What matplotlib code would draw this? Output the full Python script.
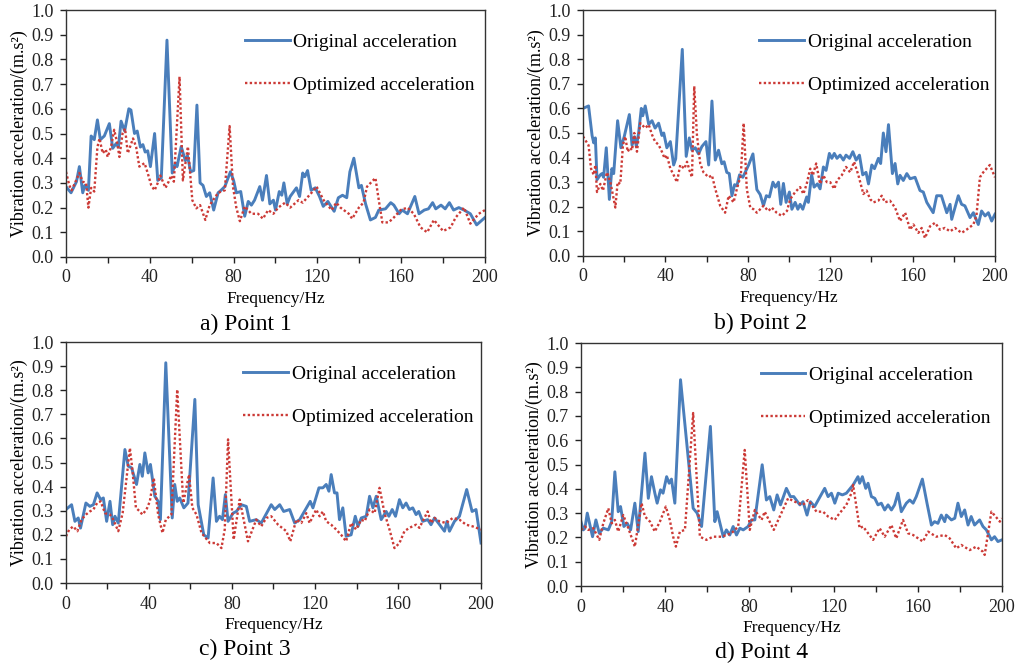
import matplotlib
matplotlib.use("Agg")
from matplotlib import pyplot as plt
from matplotlib.ticker import MultipleLocator, FuncFormatter

plt.rcParams["font.family"] = ["Liberation Serif", "DejaVu Serif"]

# Point 1
p1_orig_f = [0, 2.4, 5, 6.4, 8, 9, 10.7, 12, 13.5, 15, 16.4, 18.3, 20.7, 22.3, 24, 25, 26.3, 28, 30, 31,
             32.7, 34, 35.5, 36.7, 37.8, 39, 40.3, 42.3, 43.8, 45.5, 48.2, 50.7, 52.3, 53, 55, 57, 58, 59.5,
             61, 62.5, 64, 65.4, 67, 68.6, 70.5, 72.6, 74, 75.8, 78.5, 80, 81.3, 83.4, 85.3, 87, 88.5, 90,
             92.5, 93.8, 95.7, 97.3, 99, 100, 101.8, 103, 104, 105.6, 107, 110, 111.5, 113, 114, 115.3, 117,
             119, 121, 122.8, 125, 128, 130, 132, 134, 135.5, 137.4, 139.8, 141, 143, 145.3, 147.7, 149.3,
             152.5, 155, 156.5, 159, 160.5, 163, 166.5, 168.5, 171, 173, 175, 176.5, 179, 181, 183, 185,
             187.5, 190, 193, 196, 200]
p1_orig_v = [0.285, 0.26, 0.305, 0.366, 0.26, 0.29, 0.27, 0.49, 0.475, 0.555, 0.475, 0.49, 0.54, 0.44, 0.46,
             0.445, 0.55, 0.51, 0.6, 0.595, 0.5, 0.51, 0.445, 0.455, 0.425, 0.43, 0.366, 0.5, 0.31, 0.32,
             0.878, 0.34, 0.38, 0.366, 0.447, 0.39, 0.41, 0.345, 0.35, 0.615, 0.3, 0.29, 0.245, 0.26, 0.19,
             0.26, 0.27, 0.285, 0.345, 0.31, 0.26, 0.265, 0.165, 0.225, 0.21, 0.23, 0.285, 0.23, 0.33, 0.215,
             0.23, 0.19, 0.265, 0.25, 0.3, 0.215, 0.245, 0.28, 0.245, 0.34, 0.325, 0.35, 0.27, 0.28, 0.245,
             0.205, 0.225, 0.185, 0.24, 0.25, 0.24, 0.345, 0.4, 0.28, 0.29, 0.215, 0.15, 0.16, 0.19, 0.195,
             0.22, 0.21, 0.175, 0.19, 0.175, 0.245, 0.175, 0.19, 0.195, 0.22, 0.195, 0.21, 0.195, 0.22, 0.19,
             0.2, 0.19, 0.175, 0.13, 0.16]
p1_opt_f = [0, 1.6, 2.7, 4.3, 6.4, 8, 9.6, 10.7, 12, 13.5, 15, 16, 17.5, 19, 19.9, 21.5, 23, 24.5, 25.5, 27,
            28.2, 29.5, 32, 33.5, 35, 37.5, 39, 40.7, 42.3, 43.8, 45, 47.5, 49, 50.2, 51.5, 54.2, 55.8, 58.2,
            60.3, 62.2, 64, 66.5, 68.6, 71, 72.6, 75.8, 78.1, 79.7, 81.3, 83, 85.3, 88.5, 91.7, 94, 96.5, 99,
            101.3, 104.6, 107, 111, 113, 117.2, 119.6, 123, 126.8, 129, 131, 135, 136.6, 139.8, 142, 143.7,
            147.7, 149.3, 151, 154, 156.5, 159.7, 163, 166, 169.2, 172.4, 175.6, 180, 183.6, 186, 190, 193,
            197, 200]
p1_opt_v = [0.345, 0.29, 0.27, 0.3, 0.34, 0.305, 0.3, 0.2, 0.28, 0.265, 0.445, 0.48, 0.42, 0.435, 0.405, 0.445,
            0.515, 0.46, 0.405, 0.5, 0.52, 0.42, 0.48, 0.445, 0.366, 0.38, 0.34, 0.29, 0.27, 0.3, 0.33, 0.28,
            0.305, 0.33, 0.305, 0.73, 0.31, 0.447, 0.23, 0.197, 0.21, 0.15, 0.21, 0.24, 0.26, 0.27, 0.53,
            0.285, 0.2, 0.145, 0.205, 0.175, 0.175, 0.155, 0.19, 0.175, 0.2, 0.22, 0.2, 0.23, 0.22, 0.26,
            0.285, 0.23, 0.19, 0.22, 0.2, 0.175, 0.155, 0.2, 0.22, 0.285, 0.32, 0.23, 0.14, 0.14, 0.16, 0.19,
            0.2, 0.175, 0.12, 0.1, 0.15, 0.105, 0.12, 0.16, 0.2, 0.135, 0.175, 0.19]

# Point 2
p2_orig_f = [0, 2.7, 4.4, 5.2, 6, 6.8, 8.4, 9.2, 10, 11.3, 12.8, 14, 14.9, 16.8, 18.4, 20, 22.5, 23.8, 25,
             25.9, 27, 28.3, 29, 30.2, 31.9, 33.5, 35, 36.7, 38.3, 39.2, 40.7, 42.4, 44, 45, 48.2, 50.1, 51.6,
             52.9, 54.5, 56.1, 57.7, 59.7, 61, 62.6, 64.2, 65.8, 67.4, 68.5, 69.8, 71, 72.3, 73.6, 74.7, 76,
             77.6, 80.4, 82.5, 84.4, 86, 87.6, 89, 90.5, 92.2, 93.4, 94.9, 96, 97.3, 98.6, 100.2, 101.4, 103,
             104.3, 105.4, 106.7, 108.6, 109.4, 111, 112.2, 113.8, 115.1, 116.7, 118, 119.6, 120.8, 122, 123.3,
             124.8, 126.4, 127.7, 129.4, 131, 132.6, 134.2, 135.8, 137.4, 138.6, 140.2, 141.5, 143.4, 144.5,
             145.8, 147.1, 148.3, 150.2, 151.5, 152.8, 153.9, 155.5, 157.2, 158.8, 161.2, 163.6, 165.2, 166.9,
             170, 171.7, 174, 176.6, 178.2, 179, 182.2, 183.8, 185.4, 187.9, 189.5, 191.9, 193.5, 195.2,
             196.8, 198.4, 200]
p2_orig_v = [0.6, 0.61, 0.49, 0.46, 0.48, 0.31, 0.33, 0.335, 0.32, 0.44, 0.23, 0.355, 0.335, 0.55, 0.44,
             0.485, 0.575, 0.45, 0.485, 0.445, 0.5, 0.6, 0.57, 0.61, 0.535, 0.55, 0.52, 0.54, 0.49, 0.5,
             0.44, 0.465, 0.37, 0.395, 0.84, 0.405, 0.48, 0.43, 0.44, 0.415, 0.445, 0.465, 0.37, 0.63, 0.39,
             0.43, 0.375, 0.383, 0.34, 0.335, 0.245, 0.29, 0.285, 0.33, 0.32, 0.37, 0.415, 0.27, 0.25, 0.205,
             0.245, 0.24, 0.3, 0.28, 0.3, 0.21, 0.295, 0.218, 0.26, 0.19, 0.218, 0.19, 0.21, 0.19, 0.24,
             0.218, 0.33, 0.28, 0.293, 0.273, 0.362, 0.348, 0.417, 0.397, 0.417, 0.397, 0.41, 0.39, 0.41,
             0.397, 0.424, 0.39, 0.41, 0.33, 0.34, 0.293, 0.37, 0.355, 0.397, 0.376, 0.5, 0.424, 0.534,
             0.335, 0.376, 0.293, 0.328, 0.307, 0.335, 0.314, 0.32, 0.266, 0.26, 0.218, 0.176, 0.245, 0.245,
             0.176, 0.21, 0.149, 0.245, 0.21, 0.204, 0.156, 0.176, 0.128, 0.183, 0.163, 0.176, 0.142, 0.17]
p2_opt_f = [0, 2.7, 3.9, 5.2, 6, 6.8, 8.4, 9.7, 11.6, 13.3, 15.7, 16.8, 18.1, 19.4, 20.5, 21.7, 22.8, 23.8,
            24.9, 26.2, 27.8, 30.2, 31.9, 33.5, 35, 36.7, 38.3, 39.6, 40.7, 42.4, 43.7, 45.6, 47.2, 49.2,
            50.5, 51.7, 52.9, 54, 55.3, 56.9, 58.5, 61, 62.6, 64.2, 66.6, 69, 70.7, 73.1, 74.7, 76.6, 78,
            79.5, 81.2, 82.8, 84.4, 86, 87.6, 90, 91.6, 94, 96.5, 99, 100.6, 103, 105.4, 107, 108.6, 110.3,
            111.6, 113.2, 115.1, 116.7, 118.4, 120, 122, 123.3, 125.6, 127.7, 129.7, 131.6, 133.7, 136.1,
            137.7, 139.4, 141, 143.4, 145, 146.6, 149, 151.5, 153.9, 156.4, 158.8, 160.4, 162.8, 164.4, 166,
            168.5, 170.9, 173.3, 175.7, 178.2, 180.6, 183.8, 186.2, 189.5, 191, 192.7, 194.3, 197.5, 200]
p2_opt_v = [0.486, 0.45, 0.355, 0.33, 0.37, 0.26, 0.293, 0.266, 0.34, 0.3, 0.197, 0.3, 0.293, 0.452, 0.486,
            0.424, 0.44, 0.43, 0.5, 0.424, 0.54, 0.52, 0.534, 0.493, 0.465, 0.452, 0.424, 0.397, 0.41, 0.355,
            0.335, 0.3, 0.37, 0.355, 0.383, 0.348, 0.32, 0.69, 0.493, 0.376, 0.34, 0.32, 0.328, 0.273, 0.204,
            0.176, 0.245, 0.218, 0.273, 0.328, 0.54, 0.273, 0.197, 0.19, 0.176, 0.19, 0.204, 0.183, 0.197,
            0.176, 0.163, 0.183, 0.231, 0.26, 0.28, 0.252, 0.293, 0.355, 0.328, 0.376, 0.293, 0.328, 0.3,
            0.3, 0.273, 0.307, 0.328, 0.362, 0.34, 0.383, 0.328, 0.252, 0.266, 0.231, 0.218, 0.225, 0.245,
            0.218, 0.225, 0.197, 0.142, 0.176, 0.107, 0.128, 0.094, 0.114, 0.073, 0.121, 0.135, 0.107, 0.114,
            0.1, 0.114, 0.094, 0.107, 0.128, 0.163, 0.32, 0.34, 0.37, 0.32]

# Point 3
p3_orig_f = [0, 2.7, 4.3, 5.9, 7, 9.6, 11.5, 13.2, 15, 16.7, 18, 19.6, 21.2, 22.5, 23.6, 25.2, 28.4, 30,
             31.6, 34, 35.6, 36.8, 38, 39.6, 40.7, 42.8, 44.4, 45.5, 48.1, 51.2, 52.4, 53.6, 54.8, 56.8, 58.8,
             62.1, 63.7, 66.4, 68.5, 70.9, 72.5, 74, 75.4, 76.8, 78.1, 80.5, 82.1, 84.5, 86.9, 88.5, 91.7,
             94.1, 98.9, 100.6, 103, 104.9, 107.8, 110.2, 112.6, 117.7, 119, 121.9, 123.8, 125.4, 126.7, 127.8,
             129.4, 130.6, 131.8, 133.4, 135, 137.4, 139.4, 140.7, 142.3, 144.7, 146.3, 147.9, 149.5, 151.9,
             154.3, 155.6, 157.2, 158.8, 160.7, 162.3, 163.9, 165.5, 167.1, 168.7, 170, 171.9, 174.3, 175.9,
             177.6, 182.4, 183.6, 184.8, 187.2, 189.6, 193.1, 195.7, 197.6, 200]
p3_orig_v = [0.305, 0.325, 0.256, 0.27, 0.228, 0.332, 0.318, 0.325, 0.374, 0.346, 0.353, 0.256, 0.339, 0.242,
             0.277, 0.249, 0.554, 0.485, 0.478, 0.409, 0.492, 0.443, 0.54, 0.457, 0.492, 0.36, 0.339, 0.263,
             0.914, 0.27, 0.409, 0.339, 0.353, 0.312, 0.332, 0.762, 0.325, 0.2, 0.187, 0.436, 0.256, 0.277,
             0.263, 0.367, 0.256, 0.29, 0.297, 0.325, 0.318, 0.256, 0.263, 0.249, 0.325, 0.305, 0.325, 0.297,
             0.305, 0.249, 0.263, 0.339, 0.312, 0.395, 0.395, 0.409, 0.381, 0.45, 0.374, 0.374, 0.263, 0.312,
             0.194, 0.2, 0.277, 0.235, 0.27, 0.277, 0.36, 0.312, 0.36, 0.263, 0.297, 0.277, 0.305, 0.277,
             0.346, 0.312, 0.332, 0.305, 0.312, 0.284, 0.297, 0.256, 0.263, 0.242, 0.27, 0.215, 0.256, 0.215,
             0.256, 0.277, 0.388, 0.297, 0.305, 0.166]
p3_opt_f = [0, 1.6, 3.5, 5.5, 7.5, 9.6, 11.5, 13.2, 15, 16.7, 18.8, 21.2, 22.8, 25.2, 27.3, 30.8, 32,
            33.7, 35.6, 36.8, 38.8, 40.4, 42.3, 44.4, 46.5, 48.1, 50.8, 53.6, 56.5, 59.3, 60.9, 62.9, 65.3,
            69.3, 72.5, 74.9, 76.5, 78.1, 80.8, 83.7, 85.3, 87.7, 91.7, 94.1, 96.5, 98.9, 102.2, 106.2, 108.1,
            111, 113.4, 115.8, 117.4, 120.6, 122.2, 123.8, 125.4, 127.8, 130.2, 132.6, 135, 137.4, 139.8,
            142.3, 143.9, 146.3, 148.7, 151.1, 153.5, 155.9, 158.3, 160.7, 163.1, 165.5, 168.7, 170.3, 174.3,
            175.9, 177.6, 180, 183.2, 186.4, 189.6, 192.8, 196, 200]
p3_opt_v = [0.194, 0.222, 0.235, 0.215, 0.263, 0.284, 0.297, 0.305, 0.332, 0.339, 0.29, 0.284, 0.263, 0.215,
            0.29, 0.56, 0.47, 0.312, 0.297, 0.284, 0.305, 0.339, 0.436, 0.284, 0.208, 0.263, 0.284, 0.803,
            0.332, 0.45, 0.312, 0.284, 0.208, 0.166, 0.166, 0.145, 0.222, 0.596, 0.18, 0.346, 0.277, 0.173,
            0.263, 0.235, 0.27, 0.277, 0.242, 0.215, 0.173, 0.263, 0.249, 0.29, 0.249, 0.305, 0.277, 0.297,
            0.256, 0.242, 0.222, 0.2, 0.173, 0.249, 0.222, 0.263, 0.256, 0.305, 0.29, 0.395, 0.29, 0.222,
            0.145, 0.166, 0.215, 0.229, 0.242, 0.229, 0.297, 0.249, 0.27, 0.256, 0.249, 0.27, 0.263, 0.242,
            0.235, 0.222]

# Point 4
p4_orig_f = [0, 1.1, 1.9, 3, 5.5, 7.1, 8.7, 10.6, 13, 14.6, 16.1, 17.7, 18.8, 20.4, 22, 23.6, 25.6, 27.2,
             30.4, 32, 33.5, 35.1, 36.2, 37.8, 39, 40.7, 41.9, 43, 44.6, 47.3, 53.3, 55.2, 57.3, 61.5, 63.6,
             64.7, 67.6, 69.1, 70.7, 72.3, 73.9, 75.5, 77.1, 79.4, 81, 82.6, 86.1, 88.1, 89.7, 91.6, 93.2,
             94.8, 97.6, 99.5, 101.1, 104, 105.5, 107.4, 109, 111, 115.8, 117.4, 119, 120.6, 122.2, 124.2,
             126.1, 129.3, 131.6, 132.4, 133.7, 135.3, 136.4, 138, 139.6, 141.1, 142.7, 144.3, 145.9, 147.5,
             149, 150.6, 152.2, 154.6, 156.2, 157.8, 159.3, 162.2, 164.4, 166.5, 168, 169.6, 171.2, 172.8,
             173.6, 176, 177.6, 179.1, 180.7, 182.3, 183.9, 185.4, 187, 189.4, 191, 192.6, 195, 196.5, 198.1,
             200]
p4_orig_v = [0.265, 0.231, 0.238, 0.3, 0.203, 0.272, 0.217, 0.238, 0.231, 0.265, 0.47, 0.306, 0.327, 0.245,
             0.258, 0.231, 0.341, 0.224, 0.547, 0.361, 0.45, 0.382, 0.341, 0.396, 0.382, 0.45, 0.423, 0.44,
             0.341, 0.849, 0.32, 0.3, 0.245, 0.657, 0.265, 0.306, 0.203, 0.231, 0.21, 0.245, 0.21, 0.238,
             0.231, 0.245, 0.272, 0.272, 0.499, 0.354, 0.368, 0.313, 0.375, 0.334, 0.402, 0.368, 0.368, 0.334,
             0.347, 0.292, 0.347, 0.327, 0.402, 0.368, 0.382, 0.341, 0.382, 0.375, 0.382, 0.416, 0.45, 0.423,
             0.45, 0.402, 0.423, 0.368, 0.361, 0.334, 0.341, 0.313, 0.334, 0.313, 0.334, 0.382, 0.306, 0.341,
             0.354, 0.341, 0.368, 0.44, 0.341, 0.251, 0.265, 0.258, 0.292, 0.265, 0.292, 0.272, 0.279, 0.341,
             0.286, 0.313, 0.251, 0.286, 0.251, 0.272, 0.245, 0.231, 0.19, 0.203, 0.183, 0.19]
p4_opt_f = [0, 1.9, 3.5, 5.9, 8.7, 10.6, 13, 14.6, 16.1, 17.7, 20.1, 22.5, 25.6, 28.8, 30.4, 32.8, 35.1,
            37.5, 40.3, 42.2, 43.8, 45.1, 47, 49.4, 53.3, 56.5, 59.6, 62.8, 66.8, 71.5, 74.7, 77.8, 80.2,
            82.6, 85.8, 87.3, 91.6, 94.1, 98.4, 101.6, 105.5, 107.9, 111.9, 115, 117.4, 120.6, 122.2, 126.1,
            128.5, 129.3, 132.4, 134, 138.8, 141.9, 144.3, 147.5, 149.8, 153, 155.4, 157.8, 162.5, 164.9,
            168.8, 172.8, 175.2, 178.3, 180.7, 184.7, 187.8, 191, 191.8, 195, 197, 199, 200]
p4_opt_v = [0.231, 0.245, 0.231, 0.238, 0.19, 0.258, 0.32, 0.258, 0.272, 0.224, 0.292, 0.238, 0.162, 0.341,
            0.286, 0.265, 0.224, 0.265, 0.327, 0.272, 0.203, 0.162, 0.224, 0.231, 0.712, 0.203, 0.19, 0.203,
            0.203, 0.217, 0.245, 0.56, 0.231, 0.313, 0.272, 0.306, 0.231, 0.279, 0.361, 0.347, 0.334, 0.354,
            0.306, 0.306, 0.286, 0.272, 0.292, 0.334, 0.382, 0.416, 0.238, 0.245, 0.19, 0.238, 0.203, 0.251,
            0.196, 0.272, 0.217, 0.21, 0.183, 0.224, 0.203, 0.21, 0.196, 0.155, 0.169, 0.148, 0.162, 0.141,
            0.128, 0.306, 0.286, 0.265, 0.279]

panels = [
    ("a) Point 1", p1_orig_f, p1_orig_v, p1_opt_f, p1_opt_v),
    ("b) Point 2", p2_orig_f, p2_orig_v, p2_opt_f, p2_opt_v),
    ("c) Point 3", p3_orig_f, p3_orig_v, p3_opt_f, p3_opt_v),
    ("d) Point 4", p4_orig_f, p4_orig_v, p4_opt_f, p4_opt_v),
]

# axes boxes in figure fractions (left, bottom, width, height)
boxes = [
    (0.0645, 0.6147, 0.4096, 0.3703),
    (0.5699, 0.6162, 0.4027, 0.3688),
    (0.0645, 0.1259, 0.4057, 0.3613),
    (0.5679, 0.1214, 0.4115, 0.3643),
]

blue = "#4a7ebb"
red = "#cc3a36"

fig = plt.figure(figsize=(10.23, 6.67), dpi=100)

for (caption, of, ov, pf, pv), box in zip(panels, boxes):
    ax = fig.add_axes(box)
    ax.plot(of, ov, color=blue, lw=2.1, label="Original acceleration", solid_joinstyle="round")
    ax.plot(pf, pv, color=red, lw=1.7, linestyle=(0, (1, 1)), label="Optimized acceleration")
    ax.set_xlim(0, 200)
    ax.set_ylim(0, 1.0)
    ax.xaxis.set_major_locator(MultipleLocator(20))
    ax.xaxis.set_major_formatter(FuncFormatter(lambda v, p: f"{v:.0f}" if round(v) % 40 == 0 else ""))
    ax.yaxis.set_major_locator(MultipleLocator(0.1))
    ax.yaxis.set_major_formatter(FuncFormatter(lambda v, p: f"{v:.1f}"))
    ax.tick_params(direction="out", length=4, width=1, labelsize=13, pad=5, colors="#222222")
    for s in ax.spines.values():
        s.set_color("#333333")
        s.set_linewidth(1.0)
    ax.set_xlabel("Frequency/Hz", fontsize=12.5, labelpad=3)
    ax.set_ylabel("Vibration acceleration/(m.s²)", fontsize=13, labelpad=2)
    ax.legend(loc="upper left", bbox_to_anchor=(0.385, 0.975), frameon=False, fontsize=14,
              handlelength=2.3, handletextpad=0.2, labelspacing=1.3)
    ax.text(0.43, -0.23, caption, transform=ax.transAxes, ha="center", va="top", fontsize=17)

fig.savefig("out.png", dpi=100)
